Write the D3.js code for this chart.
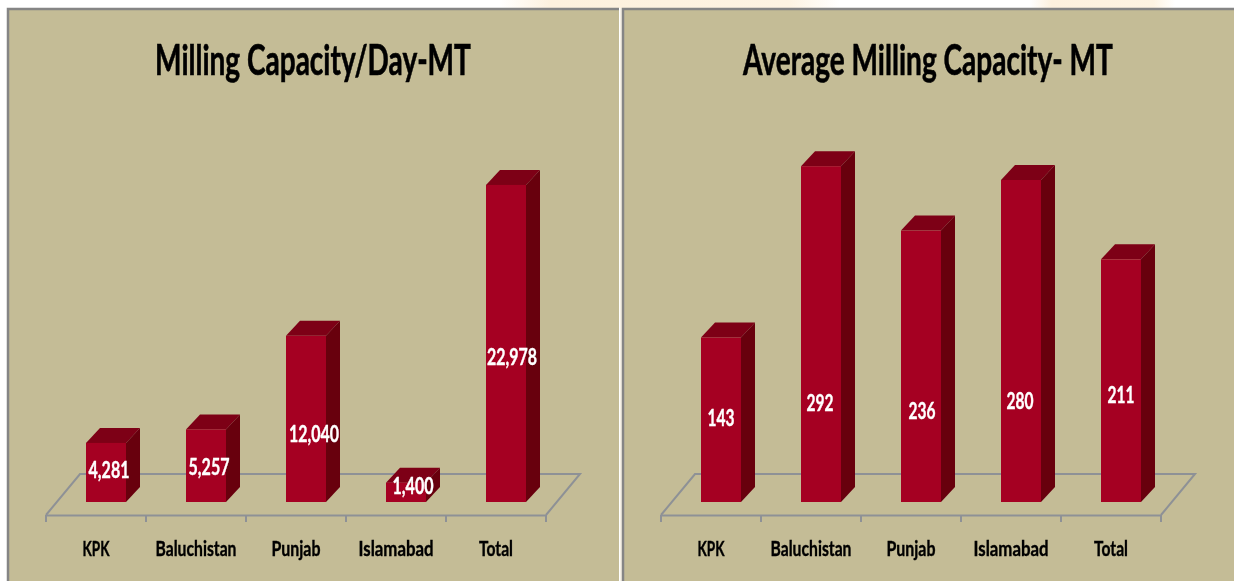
<!DOCTYPE html>
<html>
<head>
<meta charset="utf-8">
<script src="https://cdn.jsdelivr.net/npm/d3@7"></script>
<style>
html, body { margin: 0; padding: 0; background: #fff; overflow: hidden; }
svg { display: block; }
text { font-family: Lato, "Open Sans", sans-serif; font-weight: bold; }
</style>
</head>
<body>
<svg id="drawing_region" width="1234" height="581"></svg>
<script>
const categories = ["KPK", "Baluchistan", "Punjab", "Islamabad", "Total"];
const capacityValues = [4281, 5257, 12040, 1400, 22978];
const averageValues = [143, 292, 236, 280, 211];
const capacityTitle = "Milling Capacity/Day-MT";
const averageTitle = "Average Milling Capacity- MT";

const svg = d3.select("#drawing_region");
const defs = svg.append("defs");
defs.append("filter").attr("id", "soft")
    .attr("x", "-5%").attr("y", "-5%").attr("width", "110%").attr("height", "110%")
    .append("feGaussianBlur").attr("stdDeviation", 0.35);

const wheat = defs.append("linearGradient").attr("id", "wheat");
wheat.append("stop").attr("offset", "0").attr("stop-color", "#fff");
wheat.append("stop").attr("offset", "0.15").attr("stop-color", "#fdf1de");
wheat.append("stop").attr("offset", "0.85").attr("stop-color", "#fdf3e2");
wheat.append("stop").attr("offset", "1").attr("stop-color", "#fff");

const depth = { x: 14, y: 15 };
const barW = 40;
const floorY = 502;
const axisY = 515;
const axisColor = "#8e9196";
const labelWidths = [27, 81, 49, 75, 34];

// faint picture behind the panels, only shows in the top strip and the gap
svg.append("rect").attr("x", 500).attr("y", 0).attr("width", 340).attr("height", 8).attr("fill", "url(#wheat)");
svg.append("rect").attr("x", 1030).attr("y", 0).attr("width", 145).attr("height", 8).attr("fill", "url(#wheat)");
svg.append("rect").attr("x", 620).attr("y", 8).attr("width", 2).attr("height", 573).attr("fill", "#f6f1e6");

// squeeze a text horizontally around its anchor so it has the given width
function squeeze(sel, width, x, y) {
    sel.attr("transform", function () {
        const k = width / this.getComputedTextLength();
        return `translate(${x},${y}) scale(${k},1)`;
    });
}

function drawPanel(config, values, title) {
    const g = svg.append("g").attr("filter", "url(#soft)");

    g.append("rect")
        .attr("x", config.x).attr("y", 8)
        .attr("width", config.w).attr("height", 580)
        .attr("fill", "#c4bc96");
    g.append("path")
        .attr("d", `M${config.x + 1},590V9H${config.x + config.w}`)
        .attr("fill", "none").attr("stroke", "#858585").attr("stroke-width", 2.5);

    g.append("text")
        .attr("text-anchor", "middle")
        .attr("font-size", 42)
        .attr("fill", "#000")
        .attr("stroke", "#000").attr("stroke-width", 0.6)
        .text(title)
        .call(squeeze, config.titleW, config.titleX, 75);

    const xscale = d3.scaleBand().domain(categories).range([config.axisX, config.axisX + 500]);
    const yscale = d3.scaleLinear().domain([0, config.max]).range([floorY, 157]);
    const backX = 34, backY = 41;

    // floor
    g.append("path")
        .attr("d", `M${config.axisX},${axisY}L${config.axisX + backX},${axisY - backY}H${config.axisX + 500 + backX}L${config.axisX + 500},${axisY}`)
        .attr("fill", "none").attr("stroke", axisColor).attr("stroke-width", 2);

    // ticks sit on band edges, so the axis only draws the line and labels
    const axis = g.append("g")
        .attr("transform", `translate(0,${axisY})`)
        .call(d3.axisBottom(xscale).tickSize(0).tickPadding(25));
    axis.select(".domain").attr("stroke", axisColor).attr("stroke-width", 2);
    axis.selectAll("text")
        .attr("font-size", 21)
        .attr("fill", "#000")
        .attr("stroke", "#000").attr("stroke-width", 0.4)
        .attr("y", 0).attr("dy", 0)
        .style("font-family", "Lato, sans-serif")
        .style("font-weight", "bold")
        .each(function (d, i) {
            d3.select(this).call(squeeze, labelWidths[i], 0, 41);
        });

    g.selectAll(".edge")
        .data(d3.range(6))
        .join("line")
        .attr("x1", i => config.axisX + i * xscale.step())
        .attr("x2", i => config.axisX + i * xscale.step())
        .attr("y1", axisY).attr("y2", axisY + 7)
        .attr("stroke", axisColor).attr("stroke-width", 2);

    const bars = g.selectAll(".bar")
        .data(values)
        .join("g")
        .attr("transform", (d, i) => `translate(${xscale(categories[i]) + 40},0)`);

    bars.append("path")
        .attr("d", d => `M0,${yscale(d)}l${depth.x},${-depth.y}h${barW}l${-depth.x},${depth.y}z`)
        .attr("fill", "#7d0016");
    bars.append("path")
        .attr("d", d => `M${barW},${yscale(d)}l${depth.x},${-depth.y}V${floorY - depth.y}l${-depth.x},${depth.y}z`)
        .attr("fill", "#670010");
    bars.append("rect")
        .attr("width", barW)
        .attr("y", d => yscale(d))
        .attr("height", d => floorY - yscale(d))
        .attr("fill", "#a50021");

    bars.append("text")
        .attr("text-anchor", "middle")
        .attr("font-size", 22)
        .attr("fill", "#fff")
        .attr("stroke", "#fff").attr("stroke-width", 0.4)
        .text(d => d3.format(",")(d))
        .each(function (d, i) {
            const w = String(d3.format(",")(d)).length >= 6 ? 50 : (String(d).length === 4 ? 41 : 27);
            d3.select(this).call(squeeze, w, barW / 2 + config.labelDx[i], config.labelY[i] + 8);
        });
}

drawPanel({ x: 7, w: 612, axisX: 46, max: 25000, titleX: 313, titleW: 316,
    labelDx: [3, 3, 8, 7, 6], labelY: [470, 467, 434, 486, 357] }, capacityValues, capacityTitle);
drawPanel({ x: 622, w: 620, axisX: 661, max: 300, titleX: 928, titleW: 370,
    labelDx: [0, -1, 1, -1, 0], labelY: [418, 403, 411, 401, 395] }, averageValues, averageTitle);
</script>
</body>
</html>
